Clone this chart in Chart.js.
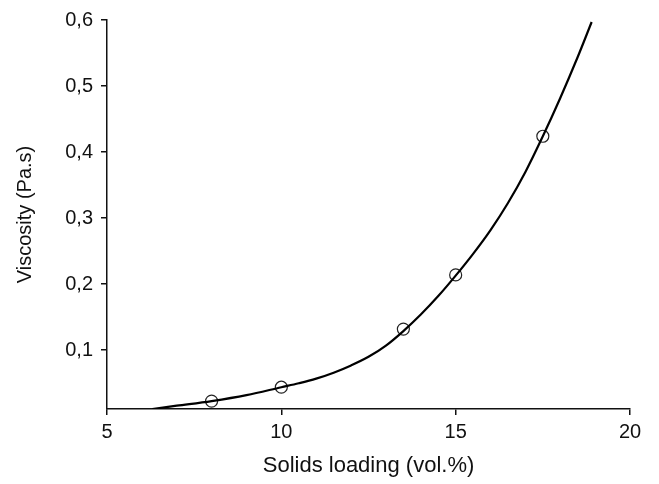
<!DOCTYPE html>
<html>
<head>
<meta charset="utf-8">
<script src="https://cdn.jsdelivr.net/npm/chart.js@4/dist/chart.umd.min.js"></script>
<style>
  html, body { margin: 0; padding: 0; background: #fff; }
  #wrap { width: 659px; height: 484px; }
</style>
</head>
<body>
<div id="wrap"><canvas id="viscChart" width="659" height="484"></canvas></div>
<script>
// Measured viscosity at each solids loading
const loading = [8, 10, 13.5, 15, 17.5];
const viscosity = [0.023, 0.044, 0.132, 0.214, 0.424];

// Fitted curve traced through the measurements
const fitLoading = [6.3, 7, 8, 9, 10, 10.5, 11, 11.5, 12, 12.5, 13, 13.5, 14, 14.5, 15, 15.5, 16, 16.5, 17, 17.5, 18, 18.5, 18.9];
const fitViscosity = [0.011, 0.016, 0.023, 0.032, 0.044, 0.050, 0.057, 0.066, 0.077, 0.090, 0.107, 0.129, 0.154, 0.182, 0.213, 0.246, 0.282, 0.323, 0.370, 0.424, 0.482, 0.544, 0.597];

const xTicks = [5, 10, 15, 20];
const yTicks = [0.1, 0.2, 0.3, 0.4, 0.5, 0.6];

const fontFamily = '"Liberation Sans", Arial, sans-serif';
const ink = '#111';

const toPoints = (xs, ys) => xs.map((x, i) => ({ x: x, y: ys[i] }));

const axisCommon = {
  type: 'linear',
  grid: { display: true, drawOnChartArea: false, drawTicks: true, tickLength: 6, color: ink, lineWidth: 1.5 },
  border: { display: true, color: ink, width: 1.5 }
};

new Chart(document.getElementById('viscChart').getContext('2d'), {
  type: 'scatter',
  data: {
    datasets: [
      {
        label: 'fit',
        type: 'line',
        data: toPoints(fitLoading, fitViscosity),
        borderColor: '#000',
        borderWidth: 2.2,
        pointRadius: 0,
        tension: 0.35,
        fill: false
      },
      {
        label: 'measured',
        data: toPoints(loading, viscosity),
        pointStyle: 'circle',
        pointRadius: 6,
        pointBorderWidth: 1.2,
        pointBorderColor: '#222',
        pointBackgroundColor: 'rgba(0,0,0,0)'
      }
    ]
  },
  options: {
    responsive: false,
    animation: false,
    layout: { padding: { left: 0, right: 29, top: 18, bottom: 0 } },
    plugins: { legend: { display: false }, tooltip: { enabled: false } },
    scales: {
      x: {
        ...axisCommon,
        min: 5,
        max: 20,
        afterBuildTicks: s => { s.ticks = xTicks.map(v => ({ value: v })); },
        afterFit: s => { s.height = 75; },
        ticks: { color: ink, padding: 5, font: { family: fontFamily, size: 20 } },
        title: {
          display: true,
          text: 'Solids loading (vol.%)',
          color: ink,
          padding: { top: 0, bottom: 5 },
          font: { family: fontFamily, size: 22 }
        }
      },
      y: {
        ...axisCommon,
        min: 0.011,
        max: 0.6,
        afterBuildTicks: s => { s.ticks = yTicks.map(v => ({ value: v })); },
        afterFit: s => { s.width = 107; },
        ticks: {
          color: ink,
          padding: 8,
          font: { family: fontFamily, size: 20 },
          callback: v => v.toFixed(1).replace('.', ',')
        },
        title: {
          display: true,
          text: 'Viscosity (Pa.s)',
          color: ink,
          padding: { top: 13, bottom: 0 },
          font: { family: fontFamily, size: 20 }
        }
      }
    }
  }
});
</script>
</body>
</html>
